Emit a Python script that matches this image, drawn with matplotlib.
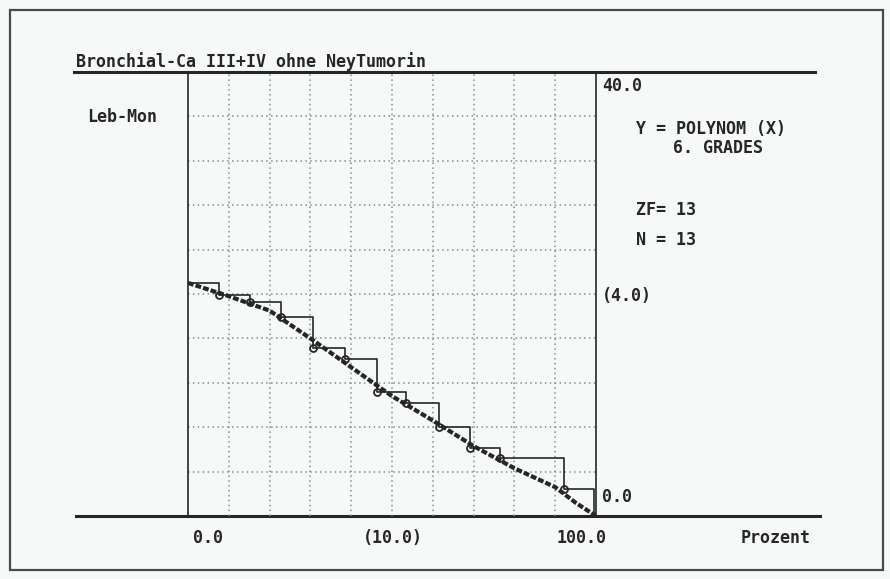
#!/usr/bin/env python3
"""Old DOS-style survival chart: step function, data points and a 6th degree polynomial."""

import matplotlib
matplotlib.use("Agg")
import matplotlib.pyplot as plt
from matplotlib.lines import Line2D
from matplotlib.patches import Rectangle

# Observed points (x = percent of patients, y = months of life)
pct = [0.0, 7.6, 15.2, 22.8, 30.6, 38.5, 46.3, 53.4, 61.5, 69.1, 76.5, 92.2, 99.5]
months = [21.0, 19.9, 19.3, 17.9, 15.1, 14.1, 11.2, 10.2, 8.0, 6.1, 5.2, 2.4, 0.0]

# Polynomial curve
curve_x = [0, 5, 10, 20, 30, 40, 50, 60, 70, 80, 90, 95, 100]
curve_y = [21.0, 20.4, 19.8, 18.5, 16.0, 13.4, 10.8, 8.6, 6.3, 4.3, 2.6, 1.2, 0.0]

title = "Bronchial-Ca III+IV ohne NeyTumorin"
y_label = "Leb-Mon"
x_label = "Prozent"
x_ticks = ["0.0", "(10.0)", "100.0"]
y_ticks = ["40.0", "(4.0)", "0.0"]
info = ["Y = POLYNOM (X)", "6. GRADES", "ZF= 13", "N = 13"]

W, H = 890, 579
BG = "#f6f9f8"
INK = "#262626"
GRID = "#7a9099"
FONT = dict(family="DejaVu Sans Mono", weight="bold", size=12, color=INK)

fig = plt.figure(figsize=(W / 100, H / 100), dpi=100, facecolor=BG)

# pixel overlay for frame and labels
ov = fig.add_axes([0, 0, 1, 1])
ov.set_xlim(0, W)
ov.set_ylim(H, 0)
ov.axis("off")
ov.set_facecolor("none")

# data axes, placed at pixel box x 188..596, y 72..516
left, right, top, bottom = 188, 596, 72, 516
ax = fig.add_axes([left / W, (H - bottom) / H, (right - left) / W, (bottom - top) / H])
ax.set_facecolor("none")
ax.set_xlim(0, 100)
ax.set_ylim(0, 40)
ax.set_xticks([])
ax.set_yticks([])
for side in ["top", "bottom"]:
    ax.spines[side].set_visible(False)
for side in ["left", "right"]:
    ax.spines[side].set_color(INK)
    ax.spines[side].set_linewidth(1.2)

for gx in range(10, 100, 10):
    ax.axvline(gx, color=GRID, lw=1.1, ls=(0, (1, 2.2)), zorder=1)
for gy in range(4, 40, 4):
    ax.axhline(gy, color=GRID, lw=1.1, ls=(0, (1, 2.2)), zorder=1)

ax.step(pct, months, where="post", color=INK, lw=1.2, zorder=3)
ax.plot(curve_x, curve_y, color=INK, lw=3, ls=(0, (1.4, 0.5)), zorder=4)
ax.plot(pct[1:-1], months[1:-1], "o", ms=5, mfc="none", mec=INK, mew=1.3, zorder=5)

# frame and horizontal rules
ov.add_patch(Rectangle((10, 10), 873, 560, fill=False, ec="#4a4a4a", lw=1.6))
ov.add_line(Line2D([74, 815], [72, 72], color=INK, lw=2.2))
ov.add_line(Line2D([76, 820], [516, 516], color=INK, lw=2.2))

ov.text(76, 67, title, ha="left", va="baseline", **FONT)
ov.text(87, 117, y_label, ha="left", va="center", **FONT)

ov.text(602, 86, y_ticks[0], ha="left", va="center", **FONT)
ov.text(602, 296, y_ticks[1], ha="left", va="center", **FONT)
ov.text(602, 497, y_ticks[2], ha="left", va="center", **FONT)

ov.text(636, 129, info[0], ha="left", va="center", **FONT)
ov.text(673, 148, info[1], ha="left", va="center", **FONT)
ov.text(636, 210, info[2], ha="left", va="center", **FONT)
ov.text(636, 240, info[3], ha="left", va="center", **FONT)

ov.text(193, 538, x_ticks[0], ha="left", va="center", **FONT)
ov.text(363, 538, x_ticks[1], ha="left", va="center", **FONT)
ov.text(556, 538, x_ticks[2], ha="left", va="center", **FONT)
ov.text(741, 538, x_label, ha="left", va="center", **FONT)

fig.savefig("out.png", dpi=100, facecolor=BG)
